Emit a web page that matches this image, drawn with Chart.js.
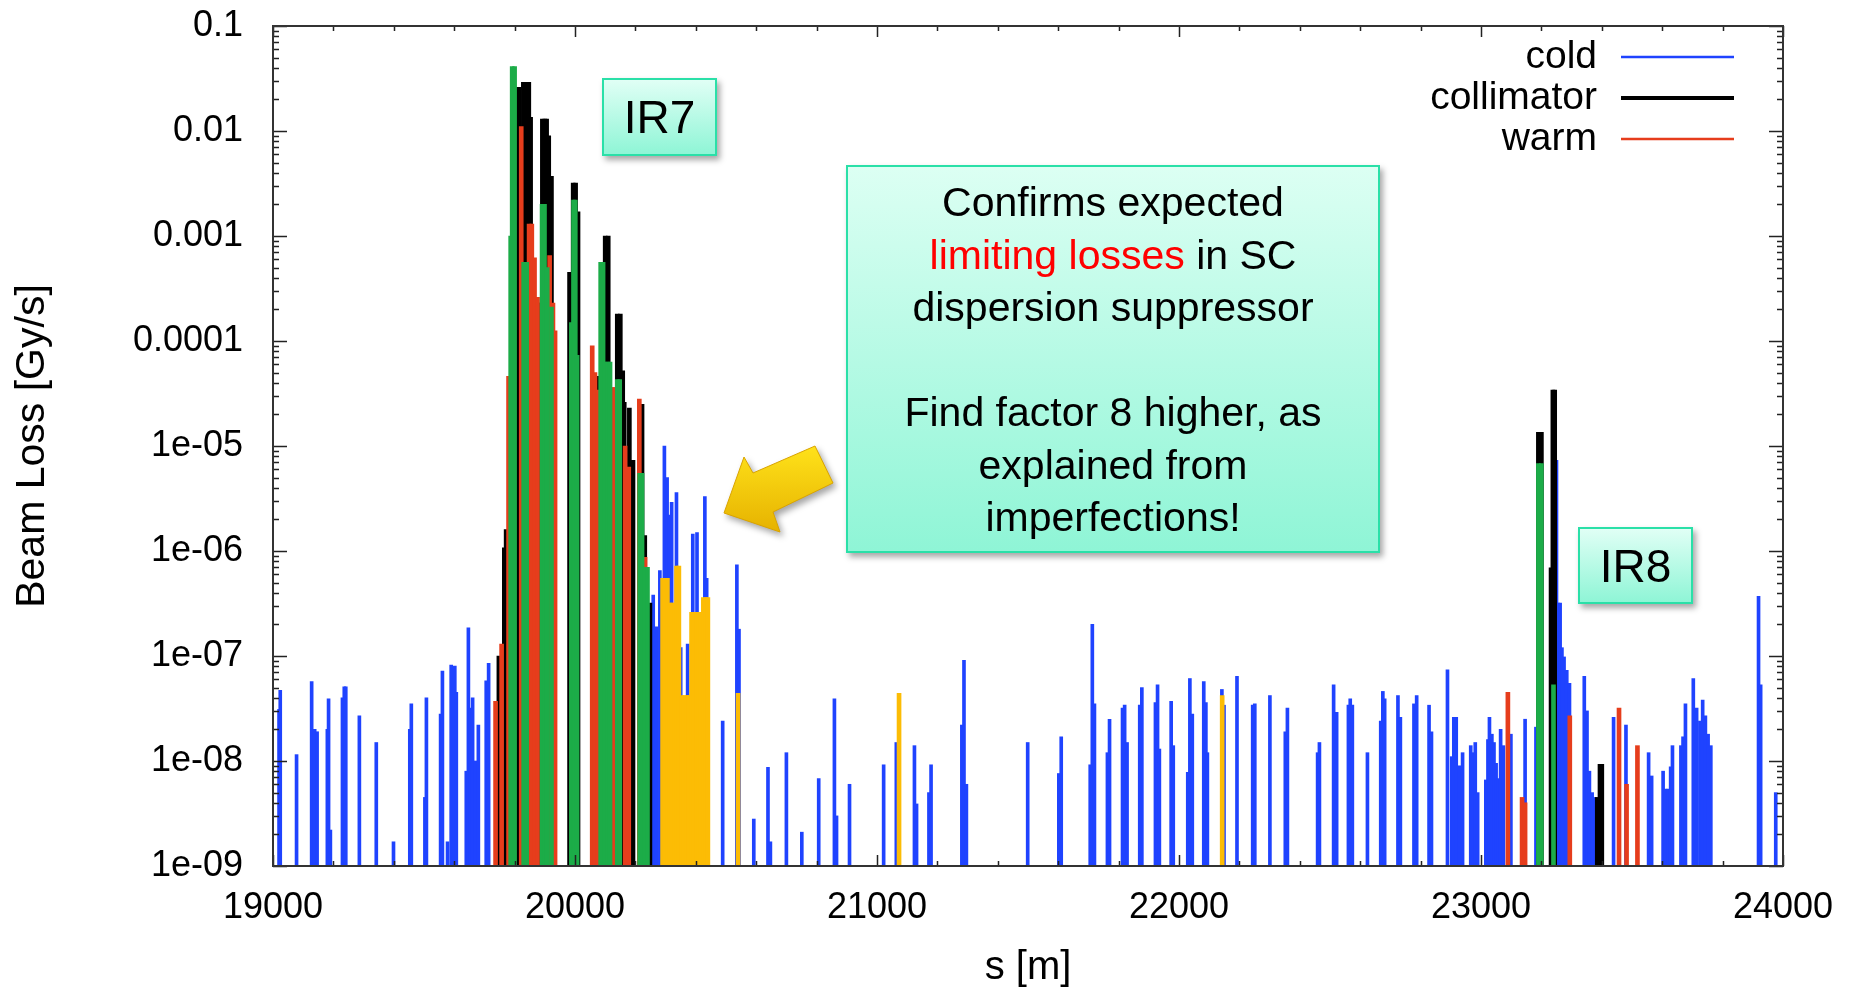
<!DOCTYPE html>
<html lang="en">
<head>
<meta charset="UTF-8">
<title>Beam loss map IR7 - IR8</title>
<script src="https://cdn.jsdelivr.net/npm/chart.js@4.4.1/dist/chart.umd.min.js"></script>
<style>
  html, body { margin: 0; padding: 0; background: #fff; overflow: hidden; }
  #wrap { position: relative; width: 1849px; height: 988px; font-family: "Liberation Sans", Arial, sans-serif; }
  #chart { position: absolute; left: 0; top: 0; }
  .tag {
    position: absolute; box-sizing: border-box;
    border: 2.5px solid #2ae0a8;
    background: linear-gradient(#e0fff5, #8ff5d6);
    box-shadow: 3px 4px 6px rgba(0, 0, 0, 0.35);
    display: flex; align-items: center; justify-content: center;
    color: #000; font-size: 46px;
  }
  .note {
    position: absolute; box-sizing: border-box;
    border: 2.5px solid #2ae0a8;
    background: linear-gradient(#dcfff3, #8ff5d6);
    box-shadow: 3px 4px 6px rgba(0, 0, 0, 0.35);
    color: #000; font-size: 41px; line-height: 52.5px; text-align: center;
    padding-top: 9px;
  }
  .note .hl { color: #ff0000; }
  #arrow { position: absolute; left: 0; top: 0; pointer-events: none; filter: drop-shadow(3px 4px 3px rgba(0,0,0,0.35)); }
</style>
</head>
<body>
<div id="wrap">
  <canvas id="chart" width="1849" height="988"></canvas>

  <!-- annotations -->
  <div class="tag" style="left:602px; top:78px; width:115px; height:78px;">IR7</div>
  <div class="tag" style="left:1578px; top:527px; width:115px; height:77px;">IR8</div>
  <div class="note" style="left:846px; top:165px; width:534px; height:388px;">
    Confirms expected<br>
    <span class="hl">limiting losses</span> in SC<br>
    dispersion suppressor<br>
    <br>
    Find factor 8 higher, as<br>
    explained from<br>
    imperfections!
  </div>
  <svg id="arrow" width="1849" height="988">
    <defs>
      <linearGradient id="gold" x1="0" y1="0" x2="0" y2="1">
        <stop offset="0" stop-color="#ffe21a"/>
        <stop offset="1" stop-color="#e6b200"/>
      </linearGradient>
    </defs>
    <polygon points="724,513 744,457 753,473 815,446 833,483 773,512 780,532"
             fill="url(#gold)" stroke="#d9a300" stroke-width="1"/>
  </svg>
</div>

<script>
// ---- data (s in m, loss in Gy/s) ----
const coldS = [19020, 19024, 19078, 19128, 19138, 19146, 19180, 19184, 19190, 19230, 19236, 19241,
  19286, 19342, 19399, 19453, 19458, 19503, 19508, 19555, 19561, 19578, 19590, 19596, 19602, 19607,
  19640, 19647, 19655, 19661, 19670, 19680, 19706, 19714,
  20259, 20270, 20281, 20296, 20305, 20314, 20320, 20336, 20350, 20373, 20390, 20404, 20430, 20436,
  20489, 20536, 20543, 20592, 20639, 20647, 20700, 20751, 20807, 20859, 20866, 20909, 21022, 21064,
  21124, 21131, 21172, 21179, 21281, 21288, 21296, 21499, 21602, 21610, 21706, 21713, 21720,
  21763, 21770, 21813, 21820, 21828, 21870, 21877, 21922, 21929, 21935, 21974, 21981,
  22029, 22036, 22044, 22082, 22089, 22094, 22142, 22149, 22192, 22244, 22251, 22301, 22352, 22359,
  22459, 22465, 22512, 22522, 22561, 22567, 22574, 22624, 22668, 22675, 22681, 22725, 22733,
  22778, 22787, 22828, 22836, 22889, 22903, 22910, 22918, 22928, 22939, 22966, 22972, 22981, 22989,
  23016, 23023, 23028, 23036, 23043, 23050, 23057, 23065, 23074, 23099, 23146, 23182,
  23250, 23256, 23262, 23268, 23275, 23284, 23293, 23342, 23351, 23359, 23368, 23377,
  23439, 23480, 23555, 23565, 23603, 23611, 23620, 23628, 23634, 23662, 23669, 23677,
  23703, 23714, 23725, 23734, 23743, 23752, 23761, 23919, 23926, 23976];
const coldV = [3.1e-8, 4.7e-8, 1.15e-8, 5.7e-8, 2e-8, 1.9e-8, 2e-8, 3.9e-8, 2.2e-9, 4e-8, 5.1e-8, 5.1e-8,
  2.7e-8, 1.5e-8, 1.7e-9, 2e-8, 3.5e-8, 4.5e-9, 4e-8, 2.8e-8, 7.2e-8, 1.7e-9, 8.2e-8, 6e-8, 8e-8, 4.5e-8,
  8e-9, 1.85e-7, 3.2e-8, 4e-8, 1e-8, 2.2e-8, 5.8e-8, 8.5e-8,
  3.8e-7, 1.9e-7, 6.5e-7, 1e-5, 5e-6, 2.2e-6, 2.9e-6, 3.6e-6, 1.2e-7, 1.3e-7, 1.45e-6, 1.5e-6, 3.3e-6, 5.5e-7,
  2.4e-8, 7.4e-7, 1.8e-7, 2.8e-9, 8.7e-9, 1.7e-9, 1.2e-8, 2.1e-9, 6.8e-9, 3.9e-8, 3e-9, 6e-9, 9.2e-9, 1.5e-8,
  1.4e-8, 3.9e-9, 5e-9, 9.2e-9, 2.2e-8, 9.1e-8, 6e-9, 1.5e-8, 7.6e-9, 1.7e-8, 9.2e-9, 2e-7, 3.5e-8,
  1.2e-8, 2.5e-8, 3.2e-8, 3.4e-8, 1.5e-8, 3.4e-8, 5e-8, 3.6e-8, 5.3e-8, 1.3e-8, 3.7e-8, 1.4e-8,
  7.8e-9, 6.1e-8, 2.8e-8, 5.7e-8, 3.6e-8, 1.2e-8, 4.8e-8, 3.4e-8, 6.4e-8, 3.4e-8, 3.5e-8, 4.2e-8, 1.9e-8, 3.2e-8,
  1.2e-8, 1.5e-8, 5.3e-8, 2.9e-8, 3.4e-8, 3.9e-8, 3.4e-8, 1.2e-8, 2.4e-8, 4.6e-8, 3.9e-8, 4.2e-8, 2.6e-8,
  3.5e-8, 4.2e-8, 3.4e-8, 1.9e-8, 7.4e-8, 1.1e-8, 2.6e-8, 2.6e-8, 9e-9, 1.2e-8, 1.4e-8, 1.2e-8, 1.5e-8, 5e-9,
  6.6e-9, 1.6e-8, 2.6e-8, 1.8e-8, 1.5e-8, 9.5e-9, 6.8e-9, 2e-8, 1.4e-8, 1.8e-8, 2.5e-8, 2.1e-8,
  7.3e-6, 3.2e-7, 3.2e-7, 1.2e-7, 9.8e-8, 7.3e-8, 5.5e-8, 6.4e-8, 3e-8, 8e-9, 5e-9, 4.5e-9,
  2.6e-8, 2.2e-8, 1.2e-8, 7.2e-9, 8e-9, 5.4e-9, 5.4e-9, 8.8e-9, 1.4e-8, 1.4e-8, 1.7e-8, 3.5e-8,
  6.1e-8, 3.2e-8, 2.4e-8, 3.8e-8, 2.7e-8, 1.8e-8, 1.4e-8, 3.7e-7, 5.3e-8, 5e-9];

const collS = [19748, 19766, 19772, 19808, 19815, 19829, 19838, 19847, 19853, 19878, 19887,
  19892, 19900, 19906, 19913, 19922, 19982, 19994, 20002, 20010, 20079, 20088, 20100, 20110,
  20140, 20150, 20158, 20163, 20180, 20192, 20222, 20231, 20248,
  23190, 23200, 23232, 23238, 23244, 23385, 23394, 23400];
const collV = [1e-7, 1.07e-6, 1.6e-6, 0.026, 0.026, 0.029, 0.029, 0.029, 0.0135, 2.3e-4, 2.3e-4,
  0.013, 0.013, 0.013, 0.009, 3.7e-3, 4.5e-4, 3.2e-3, 3.2e-3, 1.7e-3, 4.6e-5, 5.6e-4, 1e-3, 1e-3,
  1.8e-4, 1.8e-4, 5.2e-5, 2.6e-5, 2.3e-5, 7.3e-6, 2.5e-5, 1.4e-6, 3.2e-7,
  1.35e-5, 1.35e-5, 6.9e-7, 3.4e-5, 3.4e-5, 4.5e-9, 9.3e-9, 9.3e-9];

const warmS = [19737, 19757, 19780, 19822, 19848, 19857, 19866, 19876, 19916, 19927, 19934,
  20057, 20066, 20075, 20125, 20131, 20166, 20178, 20213, 20232,
  23089, 23136, 23146, 23294, 23457, 23482, 23518];
const warmV = [3.7e-8, 1.3e-7, 4.6e-5, 0.011, 1.3e-3, 1.3e-3, 6.2e-4, 2.6e-4, 6.5e-4, 2.3e-4, 1.25e-4,
  9e-5, 5e-5, 3.4e-5, 3.6e-5, 3.6e-5, 1e-5, 6.3e-6, 2.8e-5, 8.7e-7,
  4.5e-8, 4.5e-9, 4e-9, 2.7e-8, 3.2e-8, 6e-9, 1.4e-8];

// filled collimator profile (green)
const fillS = [19787, 19792, 19800, 19830, 19840, 19891, 19899, 19908, 19922, 19988, 19995, 20001, 20007,
  20085, 20093, 20100, 20108, 20116, 20140, 20148, 20214, 20222, 20232, 20240, 23190, 23200, 23240];
const fillV = [1e-3, 0.041, 0.041, 5.6e-4, 5.6e-4, 2e-3, 2e-3, 5e-4, 2.1e-4, 1.5e-4, 2.2e-3, 2.2e-3, 7.3e-5,
  5.6e-4, 5.6e-4, 6.3e-5, 6.3e-5, 6.3e-5, 4.3e-5, 4.3e-5, 5.5e-6, 5.5e-6, 7e-7, 7e-7, 6.8e-6, 6.8e-6, 5.3e-8];

// filled dispersion suppressor profile (orange)
const dsS = [20290, 20298, 20306, 20314, 20322, 20330, 20336, 20344, 20354, 20362, 20370, 20378,
  20386, 20394, 20402, 20410, 20418, 20425, 20433, 20440, 20540, 21073, 22143];
const dsV = [5.5e-7, 5.5e-7, 5.5e-7, 3.2e-7, 3.2e-7, 3.2e-7, 7.2e-7, 7.2e-7, 4.2e-8, 4.2e-8, 4.2e-8, 4.2e-8,
  2.6e-7, 2.6e-7, 2.6e-7, 2.6e-7, 2.6e-7, 3.6e-7, 3.6e-7, 3.6e-7, 4.4e-8, 4.4e-8, 4.2e-8];

// axes
const xTicks = [19000, 20000, 21000, 22000, 23000, 24000];
const xMinorStep = 200;
const yTicks = [1e-9, 1e-8, 1e-7, 1e-6, 1e-5, 1e-4, 1e-3, 1e-2, 1e-1];

const FONT = '"Liberation Sans", Arial, sans-serif';

function pts(s, v) {
  return s.map((x, i) => ({ x: x, y: v[i] }));
}

function yLabel(v) {
  const e = Math.round(Math.log10(v));
  if (e >= -4) return v.toFixed(-e);
  return '1e-' + String(-e).padStart(2, '0');
}

// inward ticks on all four sides + frame
const framePlugin = {
  id: 'frame',
  afterDatasetsDraw(chart) {
    const { ctx, chartArea: a, scales: { x, y } } = chart;
    ctx.save();
    ctx.strokeStyle = '#222';
    ctx.lineWidth = 1.5;
    ctx.beginPath();
    for (let s = xTicks[0]; s <= xTicks[xTicks.length - 1]; s += xMinorStep) {
      const px = Math.round(x.getPixelForValue(s)) + 0.5;
      const len = s % 1000 === 0 ? 11 : 5;
      ctx.moveTo(px, a.bottom); ctx.lineTo(px, a.bottom - len);
      ctx.moveTo(px, a.top); ctx.lineTo(px, a.top + len);
    }
    for (let i = 0; i < yTicks.length; i++) {
      for (let k = 1; k < 10; k++) {
        const v = yTicks[i] * k;
        if (v > yTicks[yTicks.length - 1] * 1.0001) break;
        const py = Math.round(y.getPixelForValue(v)) + 0.5;
        const len = k === 1 ? 14 : 6;
        ctx.moveTo(a.left, py); ctx.lineTo(a.left + len, py);
        ctx.moveTo(a.right, py); ctx.lineTo(a.right - len, py);
      }
    }
    ctx.stroke();
    ctx.lineWidth = 2;
    ctx.strokeStyle = '#333';
    ctx.strokeRect(a.left, a.top, a.right - a.left, a.bottom - a.top);
    ctx.restore();
  }
};

// legend in the upper right corner: text, then a line sample
const cornerLegend = {
  id: 'cornerLegend',
  afterDraw(chart) {
    const { ctx, chartArea: a } = chart;
    ctx.save();
    ctx.font = '39px ' + FONT;
    ctx.textAlign = 'right';
    ctx.textBaseline = 'middle';
    let yy = a.top + 31;
    chart.data.datasets.forEach(ds => {
      if (!ds.legendLine) return;
      ctx.fillStyle = '#000';
      ctx.fillText(ds.label, a.right - 186, yy);
      ctx.strokeStyle = ds.backgroundColor;
      ctx.lineWidth = ds.legendLine;
      ctx.beginPath();
      ctx.moveTo(a.right - 162, yy);
      ctx.lineTo(a.right - 49, yy);
      ctx.stroke();
      yy += 41;
    });
    ctx.restore();
  }
};

const ctx = document.getElementById('chart').getContext('2d');
new Chart(ctx, {
  type: 'bar',
  data: {
    datasets: [
      { label: 'cold', data: pts(coldS, coldV), backgroundColor: '#1f43ff', barThickness: 3, order: 5, legendLine: 2.5 },
      { label: 'collimator', data: pts(collS, collV), backgroundColor: '#000000', barThickness: 4, order: 4, legendLine: 4 },
      { label: 'warm', data: pts(warmS, warmV), backgroundColor: '#e63d1c', barThickness: 4, order: 3, legendLine: 2.5 },
      { label: 'collimator fill', data: pts(fillS, fillV), backgroundColor: '#1cac48', barThickness: 4, order: 1 },
      { label: 'DS fill', data: pts(dsS, dsV), backgroundColor: '#fcbc05', barThickness: 4, order: 2 }
    ]
  },
  options: {
    responsive: false,
    animation: false,
    devicePixelRatio: 1,
    datasets: { bar: { grouped: false, borderWidth: 0 } },
    layout: { padding: { left: 0, right: 66, top: 26, bottom: 0 } },
    plugins: { legend: { display: false }, tooltip: { enabled: false } },
    scales: {
      x: {
        type: 'linear',
        min: 19000,
        max: 24000,
        offset: false,
        grid: { display: false, drawTicks: false },
        border: { display: false },
        afterBuildTicks: scale => { scale.ticks = xTicks.map(v => ({ value: v })); },
        afterFit: scale => { scale.height = 122; scale.paddingLeft = 0; scale.paddingRight = 0; },
        ticks: {
          autoSkip: false,
          maxRotation: 0,
          padding: 20,
          color: '#000',
          font: { family: FONT, size: 36 },
          callback: v => String(v)
        },
        title: { display: true, text: 's [m]', color: '#000', padding: 0, font: { family: FONT, size: 40, lineHeight: 1 } }
      },
      y: {
        type: 'logarithmic',
        min: 1e-9,
        max: 0.1,
        grid: { display: false, drawTicks: false },
        border: { display: false },
        afterBuildTicks: scale => { scale.ticks = yTicks.map(v => ({ value: v, major: true })); },
        afterFit: scale => { scale.width = 273; scale.paddingTop = 0; scale.paddingBottom = 0; },
        ticks: {
          autoSkip: false,
          padding: 30,
          color: '#000',
          font: { family: FONT, size: 36 },
          callback: v => yLabel(v)
        },
        title: { display: true, text: 'Beam Loss [Gy/s]', color: '#000', padding: { top: 12, bottom: 0 }, font: { family: FONT, size: 41, lineHeight: 1 } }
      }
    }
  },
  plugins: [framePlugin, cornerLegend]
});
</script>
</body>
</html>
